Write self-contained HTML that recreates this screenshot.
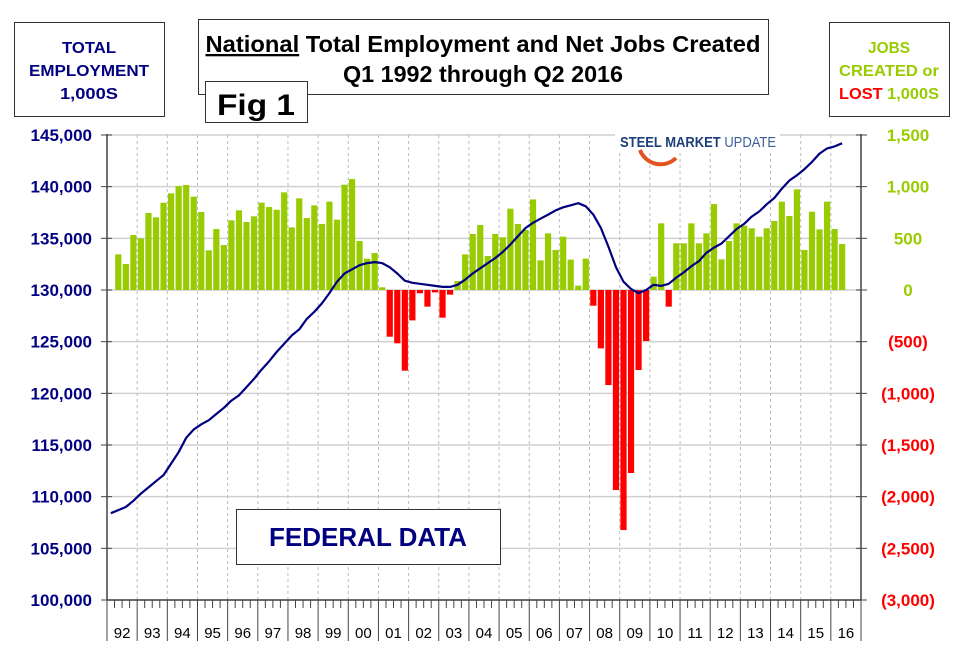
<!DOCTYPE html>
<html><head><meta charset="utf-8"><style>
body{margin:0;background:#fff;}
svg text{font-family:"Liberation Sans",Arial,sans-serif;}
</style></head><body>
<svg id="chart" width="964" height="660" viewBox="0 0 964 660" xmlns="http://www.w3.org/2000/svg">
<rect width="964" height="660" fill="#fff"/>
<g id="grid"></g>
<g id="bars"></g>
<g id="line"></g>
<g id="axes"></g>
<g>
 <rect x="615" y="128" width="165" height="22" fill="#fff"/>
 <path d="M640,150 A22,22 0 0 0 676,158" fill="none" stroke="#e2541f" stroke-width="4"/>
 <text x="620" y="147" font-size="15" font-weight="bold" fill="#1d3f7a" textLength="156" lengthAdjust="spacingAndGlyphs">STEEL MARKET <tspan font-weight="normal" fill="#3b5f97">UPDATE</tspan></text>
</g>
<g>
 <rect x="236.5" y="509.5" width="264" height="55" fill="#fff" stroke="#333" stroke-width="1"/>
 <text x="368" y="546" font-size="26" font-weight="bold" fill="#000080" text-anchor="middle">FEDERAL DATA</text>
</g>
<g>
 <rect x="14.5" y="22.5" width="150" height="94" fill="#fff" stroke="#333"/>
 <text x="89" y="53" font-size="16" font-weight="bold" fill="#000080" text-anchor="middle" textLength="54" lengthAdjust="spacingAndGlyphs">TOTAL</text>
 <text x="89" y="76" font-size="16" font-weight="bold" fill="#000080" text-anchor="middle" textLength="120" lengthAdjust="spacingAndGlyphs">EMPLOYMENT</text>
 <text x="89" y="99" font-size="16" font-weight="bold" fill="#000080" text-anchor="middle" textLength="58" lengthAdjust="spacingAndGlyphs">1,000S</text>
</g>
<g>
 <rect x="829.5" y="22.5" width="120" height="94" fill="#fff" stroke="#333"/>
 <text x="889" y="53" font-size="16" font-weight="bold" fill="#99cc00" text-anchor="middle" textLength="42" lengthAdjust="spacingAndGlyphs">JOBS</text>
 <text x="889" y="76" font-size="16" font-weight="bold" fill="#99cc00" text-anchor="middle" textLength="100" lengthAdjust="spacingAndGlyphs">CREATED or</text>
 <text x="889" y="99" font-size="16" font-weight="bold" text-anchor="middle" textLength="100" lengthAdjust="spacingAndGlyphs"><tspan fill="#ff0000">LOST</tspan> <tspan fill="#99cc00">1,000S</tspan></text>
</g>
<g>
 <rect x="198.5" y="19.5" width="570" height="75" fill="#fff" stroke="#333"/>
 <text x="483" y="52" font-size="23" font-weight="bold" fill="#000" text-anchor="middle" textLength="555" lengthAdjust="spacingAndGlyphs"><tspan text-decoration="underline">National</tspan> Total Employment and Net Jobs Created</text>
 <text x="483" y="82" font-size="23" font-weight="bold" fill="#000" text-anchor="middle" textLength="280" lengthAdjust="spacingAndGlyphs">Q1 1992 through Q2 2016</text>
</g>
<g>
 <rect x="205.5" y="81.5" width="102" height="41" fill="#fff" stroke="#333"/>
 <text x="256" y="115" font-size="30" font-weight="bold" fill="#000" text-anchor="middle" textLength="78" lengthAdjust="spacingAndGlyphs">Fig 1</text>
</g>
</svg>
<script>
const employment=[108.4,108.7,109.0,109.6,110.3,110.9,111.5,112.1,113.2,114.3,115.7,116.5,117.0,117.4,118.0,118.6,119.3,119.8,120.6,121.4,122.3,123.1,124.0,124.8,125.6,126.2,127.2,127.9,128.7,129.7,130.8,131.6,132.0,132.4,132.6,132.7,132.6,132.2,131.6,130.9,130.7,130.6,130.5,130.4,130.3,130.3,130.5,131.0,131.6,132.1,132.6,133.1,133.7,134.4,135.2,136.0,136.5,136.9,137.3,137.7,138.0,138.2,138.4,138.1,137.3,136.0,134.2,132.2,130.8,130.1,129.7,130.0,130.5,130.4,130.6,131.2,131.7,132.3,132.8,133.6,134.1,134.5,135.2,135.9,136.4,137.1,137.6,138.3,138.9,139.8,140.6,141.1,141.7,142.4,143.2,143.7,143.9,144.2];
const jobs=[345,252,532,500,745,703,845,935,1006,1016,903,755,384,590,435,674,771,658,713,845,803,777,945,606,887,697,819,639,855,681,1019,1074,474,303,358,26,-452,-516,-781,-294,-32,-161,-23,-268,-45,87,345,542,629,329,542,510,787,639,581,877,287,548,387,516,294,42,303,-152,-565,-920,-1936,-2323,-1771,-774,-494,129,645,-161,452,452,645,452,548,832,297,474,645,623,597,516,597,668,855,716,974,387,758,587,855,590,445];
const yearLabels=["92","93","94","95","96","97","98","99","00","01","02","03","04","05","06","07","08","09","10","11","12","13","14","15","16"];
const leftTicks=[100000,105000,110000,115000,120000,125000,130000,135000,140000,145000];
const rightTicks=[-3000,-2500,-2000,-1500,-1000,-500,0,500,1000,1500];

const NS="http://www.w3.org/2000/svg";
const X0=107,X1=861,Y0=135,Y1=600;
const qw=(X1-X0)/100;
const xq=i=>X0+qw*(i+0.5);
const yL=v=>Y1-(v-100000)/45000*(Y1-Y0);
const yR=v=>Y1-(v+3000)/4500*(Y1-Y0);
function mk(tag,attrs,parent){const e=document.createElementNS(NS,tag);for(const k in attrs)e.setAttribute(k,attrs[k]);parent.appendChild(e);return e;}
const grid=document.getElementById('grid'),bars=document.getElementById('bars'),line=document.getElementById('line'),axes=document.getElementById('axes');
leftTicks.forEach(v=>{const g=mk('line',{x1:X0,x2:X1,y1:yL(v),y2:yL(v),stroke:'#d0d0d0','stroke-width':1.5},grid);

});
yearLabels.forEach((l,k)=>{if(k>0){const g=mk('line',{x1:X0+k*4*qw,x2:X0+k*4*qw,y1:Y0,y2:Y1,stroke:'#bbb','stroke-dasharray':'3,3'},grid);

}});
jobs.forEach((v,j)=>{const i=j+1;const cx=xq(i);const y0=yR(0),y=yR(v);
const r=mk('rect',{x:cx-3.1,width:6.2,y:Math.min(y,y0),height:Math.abs(y-y0),fill:v>=0?'#99cc00':'#ff0000'},bars);

});
const pts=employment.map((v,i)=>xq(i).toFixed(1)+','+yL(v*1000).toFixed(1)).join(' ');
const pl=mk('polyline',{points:pts,fill:'none',stroke:'#000080','stroke-width':2.2,'stroke-linejoin':'round'},line);


mk('line',{x1:X0,x2:X0,y1:Y0-1,y2:Y1,stroke:'#444','stroke-width':1.5},axes);
mk('line',{x1:X1,x2:X1,y1:Y0-1,y2:Y1,stroke:'#444','stroke-width':1.5},axes);
mk('line',{x1:X0,x2:X1,y1:Y1,y2:Y1,stroke:'#444','stroke-width':1.5},axes);
leftTicks.forEach(v=>{mk('line',{x1:X0-6,x2:X0+5,y1:yL(v),y2:yL(v),stroke:'#444'},axes);
const t=mk('text',{x:92,y:yL(v)+6,'font-size':17,'font-weight':'bold',fill:'#000080','text-anchor':'end'},axes);t.textContent=v.toLocaleString('en-US');

});
rightTicks.forEach(v=>{mk('line',{x1:X1-5,x2:X1+6,y1:yR(v),y2:yR(v),stroke:'#444'},axes);
const s=v<0?'('+Math.abs(v).toLocaleString('en-US')+')':v.toLocaleString('en-US');
const t=mk('text',{x:908,y:yR(v)+6,'font-size':17,'font-weight':'bold',fill:v<0?'#ff0000':'#99cc00','text-anchor':'middle'},axes);t.textContent=s;

});
for(let i=0;i<=100;i++){const x=X0+i*qw;mk('line',{x1:x,x2:x,y1:Y1,y2:i%4===0?Y1+41:Y1+8,stroke:'#444','stroke-width':1},axes);}
yearLabels.forEach((l,k)=>{const t=mk('text',{x:X0+(k*4+2)*qw,y:638,'font-size':15,fill:'#000','text-anchor':'middle'},axes);t.textContent=l;

});
</script>
</body></html>
